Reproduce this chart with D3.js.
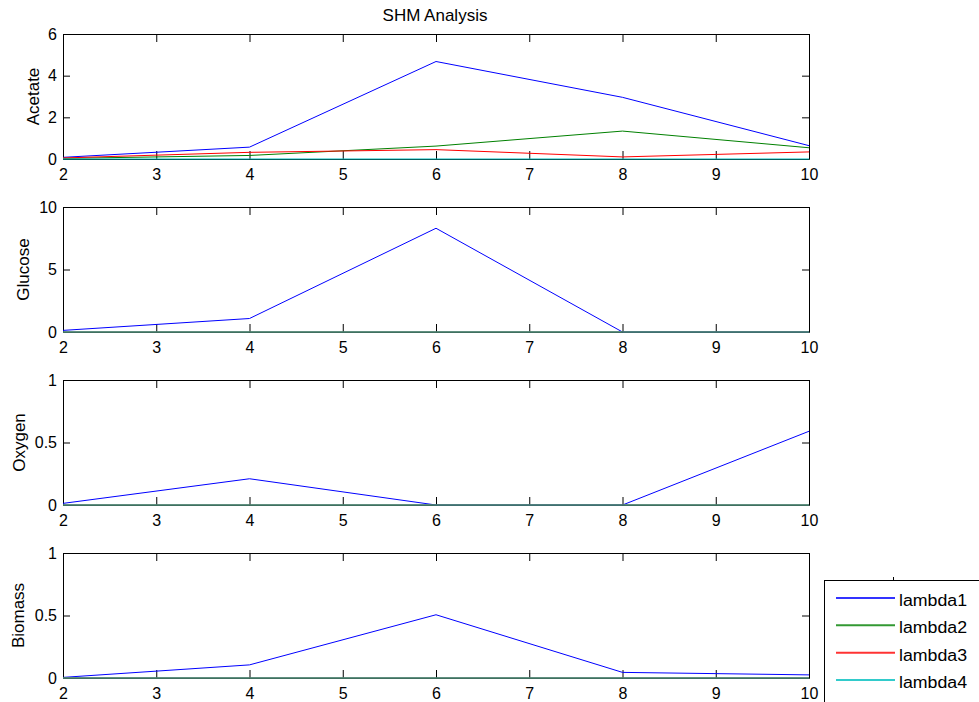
<!DOCTYPE html>
<html>
<head>
<meta charset="utf-8">
<script src="https://cdn.jsdelivr.net/npm/d3@7"></script>
<style>
  body { margin: 0; background: #fff; }
  svg text { font-family: "Liberation Sans", Arial, Helvetica, sans-serif; fill: #000; }
</style>
</head>
<body>
<div id="chart"></div>
<script>
var width = 979;
var height = 702;

// data
var xvals = [2, 4, 6, 8, 10];
var seriesNames = ["lambda1", "lambda2", "lambda3", "lambda4"];
var seriesColors = ["#0000ff", "#008000", "#ff0000", "#00bfbf"];
var panelNames = ["Acetate", "Glucose", "Oxygen", "Biomass"];
var yMax = [6, 10, 1, 1];
var yTicks = [[0, 2, 4, 6], [0, 5, 10], [0, 0.5, 1], [0, 0.5, 1]];
var xTicks = [2, 3, 4, 5, 6, 7, 8, 9, 10];

var acetate = [
  [0.08, 0.57, 4.68, 2.96, 0.64],
  [0.03, 0.17, 0.62, 1.34, 0.54],
  [0.05, 0.32, 0.45, 0.10, 0.34],
  [0, 0, 0, 0, 0]
];
var glucose = [
  [0.13, 1.08, 8.3, 0, 0],
  [0, 0, 0, 0, 0],
  [0, 0, 0, 0, 0],
  [0, 0, 0, 0, 0]
];
var oxygen = [
  [0.013, 0.21, 0, 0, 0.59],
  [0, 0, 0, 0, 0],
  [0, 0, 0, 0, 0],
  [0, 0, 0, 0, 0]
];
var biomass = [
  [0.005, 0.105, 0.506, 0.045, 0.025],
  [0, 0, 0, 0, 0],
  [0, 0, 0, 0, 0],
  [0, 0, 0, 0, 0]
];
var panelData = [acetate, glucose, oxygen, biomass];

// layout
var left = 63, right = 809;
var panelTop = [34, 207, 380, 553];
var panelH = 125;
var ylabelX = [33, 23, 19, 18]; // matlab pushes the label past the widest tick label

var svg = d3.select("#chart").append("svg")
  .attr("width", width)
  .attr("height", height);

var x = d3.scaleLinear().domain([2, 10]).range([left, right]);

svg.append("text")
  .attr("x", 435)
  .attr("y", 21)
  .attr("text-anchor", "middle")
  .style("font-size", "17px")
  .text("SHM Analysis");

panelData.forEach(function(data, p) {
  var pTop = panelTop[p];
  var y = d3.scaleLinear().domain([0, yMax[p]]).range([pTop + panelH, pTop]);
  var g = svg.append("g");

  // axes (ticks inward, box all round)
  var bottom = g.append("g")
    .attr("transform", "translate(0," + (pTop + panelH) + ")")
    .call(d3.axisBottom(x).tickValues(xTicks).tickFormat(d3.format("d"))
      .tickSizeInner(-8).tickSizeOuter(0).tickPadding(10));
  var topAx = g.append("g")
    .attr("transform", "translate(0," + pTop + ")")
    .call(d3.axisTop(x).tickValues(xTicks).tickFormat("")
      .tickSizeInner(-8).tickSizeOuter(0));
  var leftAx = g.append("g")
    .attr("transform", "translate(" + left + ",0)")
    .call(d3.axisLeft(y).tickValues(yTicks[p]).tickFormat(d3.format("~g"))
      .tickSizeInner(-7).tickSizeOuter(0).tickPadding(6));
  var rightAx = g.append("g")
    .attr("transform", "translate(" + right + ",0)")
    .call(d3.axisRight(y).tickValues(yTicks[p]).tickFormat("")
      .tickSizeInner(-7).tickSizeOuter(0));

  [bottom, topAx, leftAx, rightAx].forEach(function(a) {
    a.attr("font-family", null);
    a.select(".domain").attr("stroke", "#000").attr("stroke-width", 1);
    a.selectAll(".tick line").attr("stroke", "#000");
    a.selectAll("text").style("font-size", "16px").attr("fill", "#000");
  });

  // lines
  var line = d3.line()
    .x(function(d, i) { return x(xvals[i]); })
    .y(function(d) { return y(d); });
  data.forEach(function(s, k) {
    g.append("path")
      .datum(s)
      .attr("d", line)
      .attr("fill", "none")
      .attr("stroke", seriesColors[k])
      .attr("stroke-width", 1);
  });

  svg.append("text")
    .attr("transform", "translate(" + ylabelX[p] + "," + (pTop + panelH / 2) + ") rotate(-90)")
    .attr("text-anchor", "middle")
    .attr("dy", "0.35em")
    .style("font-size", "17px")
    .text(panelNames[p]);
});

// legend
var legY = d3.scalePoint().domain(seriesNames).range([598, 680]);
var leg = svg.append("g");
leg.append("rect")
  .attr("x", 824.5).attr("y", 580.5)
  .attr("width", 170).attr("height", 130)
  .attr("fill", "#fff").attr("stroke", "#000").attr("stroke-width", 1);
leg.append("line")
  .attr("x1", 893.5).attr("x2", 893.5).attr("y1", 577).attr("y2", 581)
  .attr("stroke", "#000");
seriesNames.forEach(function(n, i) {
  leg.append("line")
    .attr("x1", 836).attr("x2", 895)
    .attr("y1", legY(n)).attr("y2", legY(n))
    .attr("stroke", seriesColors[i]).attr("stroke-width", 2).attr("opacity", 0.8);
  leg.append("text")
    .attr("x", 899).attr("y", legY(n) + 8)
    .style("font-size", "16px")
    .attr("textLength", 68).attr("lengthAdjust", "spacingAndGlyphs")
    .text(n);
});
</script>
</body>
</html>
